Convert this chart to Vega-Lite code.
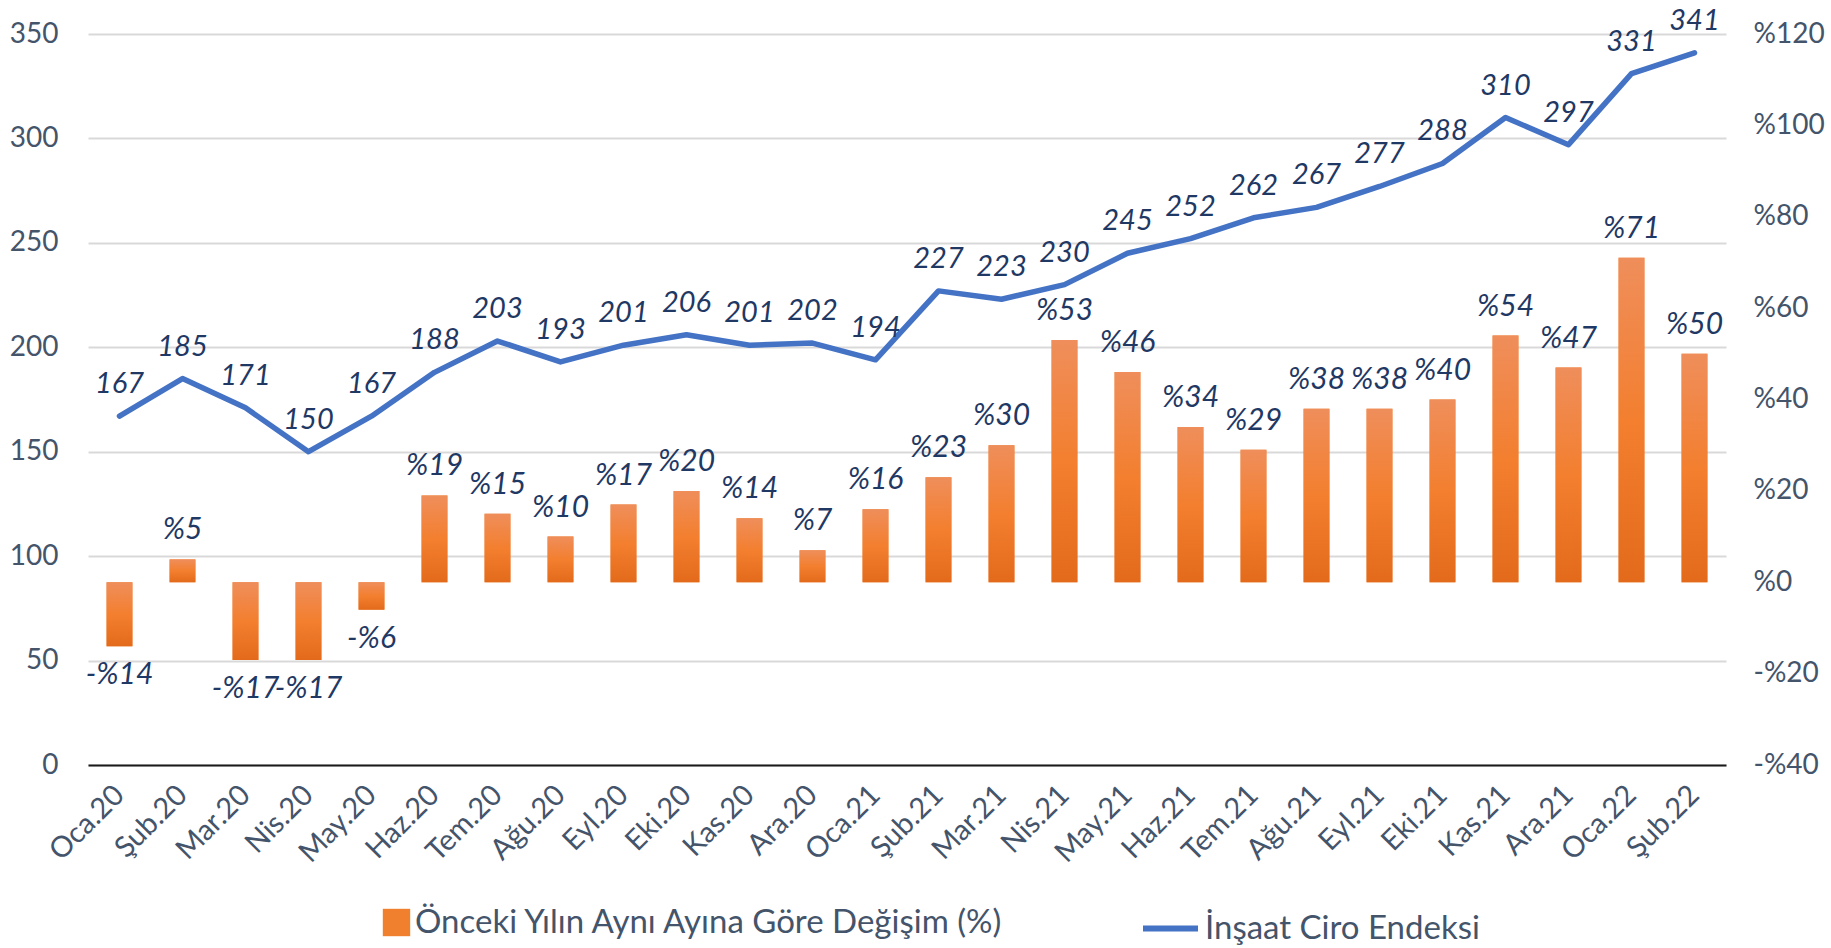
{
  "$schema": "https://vega.github.io/schema/vega-lite/v6.json",
  "width": 1638,
  "height": 731,
  "autosize": {"type": "none"},
  "padding": {"left": 88, "top": 34, "right": 105, "bottom": 183},
  "background": "white",
  "config": {"view": {"stroke": null}, "font": "Lato"},
  "data": {"values": [
    {"m": "Oca.20", "idx": 167, "pct": -14, "pl": "-%14"},
    {"m": "Şub.20", "idx": 185, "pct": 5, "pl": "%5"},
    {"m": "Mar.20", "idx": 171, "pct": -17, "pl": "-%17"},
    {"m": "Nis.20", "idx": 150, "pct": -17, "pl": "-%17"},
    {"m": "May.20", "idx": 167, "pct": -6, "pl": "-%6"},
    {"m": "Haz.20", "idx": 188, "pct": 19, "pl": "%19"},
    {"m": "Tem.20", "idx": 203, "pct": 15, "pl": "%15"},
    {"m": "Ağu.20", "idx": 193, "pct": 10, "pl": "%10"},
    {"m": "Eyl.20", "idx": 201, "pct": 17, "pl": "%17"},
    {"m": "Eki.20", "idx": 206, "pct": 20, "pl": "%20"},
    {"m": "Kas.20", "idx": 201, "pct": 14, "pl": "%14"},
    {"m": "Ara.20", "idx": 202, "pct": 7, "pl": "%7"},
    {"m": "Oca.21", "idx": 194, "pct": 16, "pl": "%16"},
    {"m": "Şub.21", "idx": 227, "pct": 23, "pl": "%23"},
    {"m": "Mar.21", "idx": 223, "pct": 30, "pl": "%30"},
    {"m": "Nis.21", "idx": 230, "pct": 53, "pl": "%53"},
    {"m": "May.21", "idx": 245, "pct": 46, "pl": "%46"},
    {"m": "Haz.21", "idx": 252, "pct": 34, "pl": "%34"},
    {"m": "Tem.21", "idx": 262, "pct": 29, "pl": "%29"},
    {"m": "Ağu.21", "idx": 267, "pct": 38, "pl": "%38"},
    {"m": "Eyl.21", "idx": 277, "pct": 38, "pl": "%38"},
    {"m": "Eki.21", "idx": 288, "pct": 40, "pl": "%40"},
    {"m": "Kas.21", "idx": 310, "pct": 54, "pl": "%54"},
    {"m": "Ara.21", "idx": 297, "pct": 47, "pl": "%47"},
    {"m": "Oca.22", "idx": 331, "pct": 71, "pl": "%71"},
    {"m": "Şub.22", "idx": 341, "pct": 50, "pl": "%50"}
  ]},
  "encoding": {
    "x": {
      "field": "m", "type": "nominal", "sort": null, "title": null,
      "scale": {"paddingInner": 0.59, "paddingOuter": 0.295},
      "axis": {
        "labelAngle": -45, "labelAlign": "right", "labelBaseline": "middle",
        "labelFontSize": 29, "labelColor": "#44546A", "labelFont": "Lato",
        "labelPadding": 25, "ticks": false, "tickSize": 0,
        "domainColor": "#1a1a1a", "domainWidth": 2, "labelOverlap": false, "labelBound": false
      }
    }
  },
  "layer": [
    {
      "encoding": {
        "y": {
          "field": "pct", "type": "quantitative", "title": null,
          "scale": {"domain": [-40, 120], "nice": false, "zero": false},
          "axis": {
            "orient": "right", "values": [-40, -20, 0, 20, 40, 60, 80, 100, 120],
            "labelExpr": "datum.value < 0 ? '-%' + abs(datum.value) : '%' + datum.value",
            "grid": false, "domain": false, "ticks": false, "tickSize": 0,
            "labelPadding": 27, "labelFontSize": 28, "labelColor": "#44546A", "labelFont": "Lato"
          }
        }
      },
      "layer": [
        {
          "mark": {"type": "bar"},
          "encoding": {
            "y2": {"datum": 0},
            "fill": {
              "datum": "Önceki Yılın Aynı Ayına Göre Değişim (%)",
              "type": "nominal",
              "scale": {"domain": ["Önceki Yılın Aynı Ayına Göre Değişim (%)"], "range": ["#F07F2E"]},
              "legend": {
                "orient": "none", "legendX": 292, "legendY": 872, "title": null,
                "symbolType": "square", "symbolSize": 750, "symbolStrokeWidth": 0,
                "labelFontSize": 33, "labelColor": "#44546A", "labelFont": "Lato",
                "labelOffset": 2, "padding": 0, "labelLimit": 0
              }
            }
          }
        },
        {
          "mark": {"type": "bar", "color": {"gradient": "linear", "x1": 0, "y1": 0, "x2": 0, "y2": 1, "stops": [
            {"offset": 0, "color": "#EF8E5B"},
            {"offset": 0.5, "color": "#F37F2F"},
            {"offset": 1, "color": "#E36A1B"}
          ]}},
          "encoding": {"y2": {"datum": 0}}
        },
        {
          "transform": [{"filter": "datum.pct >= 0"}],
          "mark": {"type": "text", "baseline": "alphabetic", "dy": -20, "fontSize": 30, "fontStyle": "italic", "font": "Lato", "color": "#1F3864"},
          "encoding": {"text": {"field": "pl"}}
        },
        {
          "transform": [{"filter": "datum.pct < 0"}],
          "mark": {"type": "text", "baseline": "top", "dy": 14, "fontSize": 30, "fontStyle": "italic", "font": "Lato", "color": "#1F3864"},
          "encoding": {"text": {"field": "pl"}}
        }
      ]
    },
    {
      "encoding": {
        "y": {
          "field": "idx", "type": "quantitative", "title": null,
          "scale": {"domain": [0, 350], "nice": false},
          "axis": {
            "orient": "left", "values": [0, 50, 100, 150, 200, 250, 300, 350],
            "grid": true, "gridColor": "#D9D9D9", "gridWidth": 2,
            "domain": false, "ticks": false, "tickSize": 0,
            "labelPadding": 30, "labelFontSize": 28, "labelColor": "#44546A", "labelFont": "Lato"
          }
        }
      },
      "layer": [
        {
          "mark": {"type": "line", "strokeWidth": 5.5, "strokeCap": "round", "strokeJoin": "round"},
          "encoding": {
            "stroke": {
              "datum": "İnşaat Ciro Endeksi", "type": "nominal",
              "scale": {"domain": ["İnşaat Ciro Endeksi"], "range": ["#4472C4"]},
              "legend": {
                "orient": "none", "legendX": 1052, "legendY": 864, "title": null,
                "symbolType": "stroke", "symbolSize": 3025, "symbolStrokeWidth": 6,
                "labelFontSize": 33, "labelColor": "#44546A", "labelFont": "Lato",
                "labelOffset": 4, "padding": 0, "labelLimit": 0
              }
            }
          }
        },
        {
          "mark": {"type": "text", "baseline": "alphabetic", "dy": -23, "fontSize": 29, "fontStyle": "italic", "font": "Lato", "color": "#1F3864"},
          "encoding": {"text": {"field": "idx", "type": "quantitative"}}
        }
      ]
    }
  ],
  "resolve": {"scale": {"y": "independent"}}
}
